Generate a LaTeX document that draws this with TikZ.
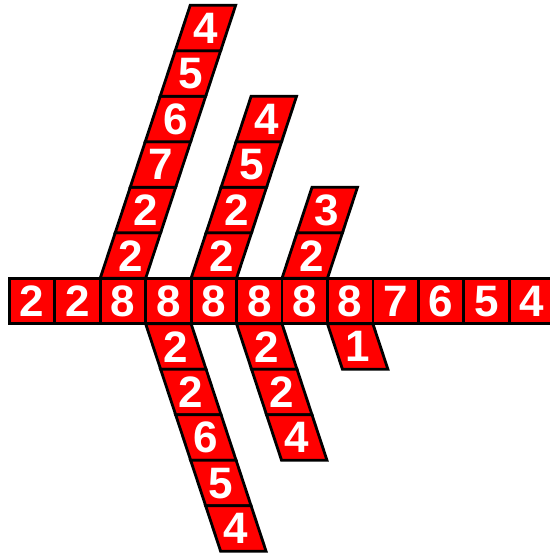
\documentclass[tikz,border=0pt]{standalone}
\usepackage{fontspec}
\setmainfont{Liberation Sans}
\tikzset{
  cellbox/.style={fill={rgb,255:red,255;green,0;blue,0}, draw=black, line width=2.8pt, line join=miter},
  digit/.style={text=white, font=\bfseries\fontsize{44}{44}\selectfont, inner sep=0pt, anchor=center}
}
% #1 x top-left, #2 y top-left, #3 horizontal shift of bottom edge, #4 label, #5 name
\newcommand\pcell[5]{%
  \draw[cellbox] ({#1},{#2}) -- ++(45.45,0) -- ++({#3},45.5) -- ++(-45.45,0) -- cycle;
  \node[digit] (#5) at ({#1+22.725+(#3)/2},{#2+22.9}) {#4};
}
\begin{document}
\begin{tikzpicture}[x=1pt,y=-1pt]
\useasboundingbox (0,0) rectangle (549,553);
% horizontal row
\foreach \l [count=\i from 0] in {2,2,8,8,8,8,8,8,7,6,5,4} {
  \pcell{9.3+45.45*\i}{278.3}{0}{\l}{r\i}
}
% upward columns
\foreach \l [count=\k] in {2,2,7,6,5,4} {
  \pcell{100.2+15*\k}{278.3-45.5*\k}{-15}{\l}{ua\k}
}
\foreach \l [count=\k] in {2,2,5,4} {
  \pcell{191.1+15*\k}{278.3-45.5*\k}{-15}{\l}{ub\k}
}
\foreach \l [count=\k] in {2,3} {
  \pcell{282.0+15*\k}{278.3-45.5*\k}{-15}{\l}{uc\k}
}
% downward columns
\foreach \l [count=\k] in {2,2,6,5,4} {
  \pcell{145.65+15*(\k-1)}{323.8+45.5*(\k-1)}{15}{\l}{da\k}
}
\foreach \l [count=\k] in {2,2,4} {
  \pcell{236.55+15*(\k-1)}{323.8+45.5*(\k-1)}{15}{\l}{db\k}
}
\foreach \l [count=\k] in {1} {
  \pcell{327.45+15*(\k-1)}{323.8+45.5*(\k-1)}{15}{\l}{dc\k}
}
\end{tikzpicture}
\end{document}
